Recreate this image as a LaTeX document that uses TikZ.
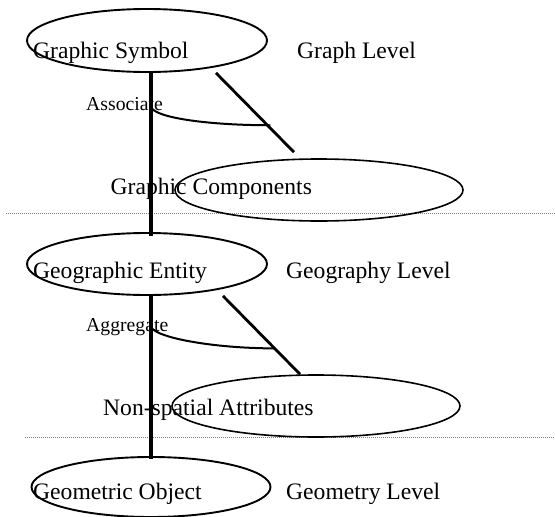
\documentclass[tikz,border=0pt]{standalone}
\usepackage{fontspec}
\setmainfont{Liberation Serif}
\usepackage{tikz}
\usetikzlibrary{shapes.geometric}

\tikzset{
    oval/.style={draw, ellipse, inner sep=0pt, line width=1.9pt},
    bigtext/.style={anchor=base west, inner sep=0pt, font=\fontsize{23.6}{28}\selectfont},
    smalltext/.style={anchor=base west, inner sep=0pt, font=\fontsize{19.7}{23}\selectfont},
    link/.style={line width=3.2pt},
    relcurve/.style={line width=2pt},
    divider/.style={gray, line width=0.8pt, dash pattern=on 1pt off 1pt}
}

\begin{document}
\begin{tikzpicture}[x=1pt, y=-1pt]
    \useasboundingbox (0,0) rectangle (555,517);

    % Draw level dividers
    \draw[divider] (6,213) -- (555,213);
    \draw[divider] (25,437) -- (555,437);

    % Draw ellipses
    \node[oval, minimum width=240pt, minimum height=63pt] (sym) at (147,40.5) {};
    \node[oval, line width=1.6pt, minimum width=288pt, minimum height=62pt] (comp) at (319,190) {};
    \node[oval, minimum width=240pt, minimum height=62pt] (ent) at (147,264) {};
    \node[oval, line width=1.6pt, minimum width=288pt, minimum height=62pt] (attr) at (316,406) {};
    \node[oval, minimum width=239pt, minimum height=60pt] (obj) at (151,487) {};

    % Labels
    \node[bigtext] (symtext) at (33,58) {Graphic Symbol};
    \node[bigtext] (graphlevel) at (297,58) {Graph Level};
    \node[smalltext] (asctext) at (86,110.5) {Associate};
    \node[bigtext] (comptext) at (110.5,194) {Graphic Components};
    \node[bigtext] (enttext) at (33,278) {Geographic Entity};
    \node[bigtext] (geolevel) at (286,278) {Geography Level};
    \node[smalltext] (aggtext) at (86,331.5) {Aggregate};
    \node[bigtext] (attrtext) at (103,415) {Non-spatial Attributes};
    \node[bigtext] (objtext) at (33,499) {Geometric Object};
    \node[bigtext] (geomlevel) at (286,499) {Geometry Level};

    % Draw links
    \draw[link] ([xshift=4pt]sym.south) -- coordinate[pos=0.21] (asc) ([xshift=4pt, yshift=-4pt]ent.north);
    \draw[link] ([xshift=4pt]ent.south) -- coordinate[pos=0.19] (agg) ([yshift=-3pt]obj.north);
    \draw[link, line width=2.8pt] ([xshift=69pt]sym.south) -- coordinate[pos=0.66] (ascend) ([xshift=-25pt, yshift=6pt]comp.north);
    \draw[link, line width=2.8pt] ([xshift=76pt]ent.south) -- coordinate[pos=0.67] (aggend) ([xshift=-16pt]attr.north);

    % Relation arcs
    \draw[relcurve] (asc) .. controls +(5,11) and +(-60,0) .. ([xshift=3pt]ascend);
    \draw[relcurve] (agg) .. controls +(5,11) and +(-60,0) .. (aggend);
\end{tikzpicture}
\end{document}
